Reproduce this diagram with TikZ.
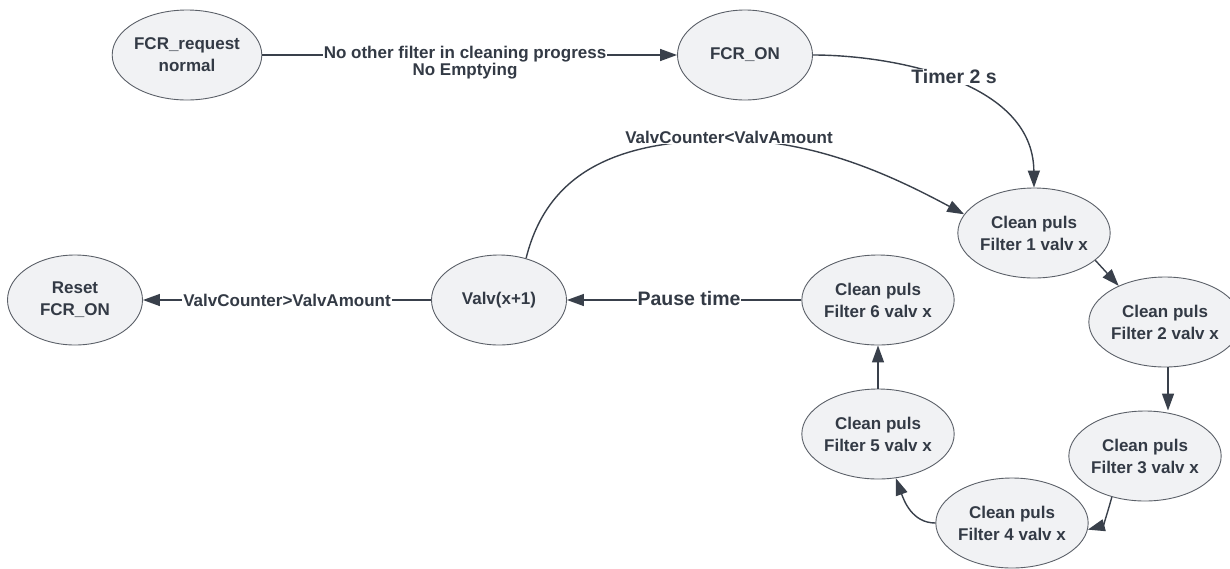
\documentclass[tikz,border=0pt]{standalone}
\usepackage{fontspec}
\setmainfont{Liberation Sans}
\usetikzlibrary{arrows.meta,shapes.geometric}
\definecolor{txt}{HTML}{333A45}
\definecolor{edge}{HTML}{39404B}
\definecolor{ebord}{HTML}{5B6068}
\definecolor{efill}{HTML}{F1F2F4}
\tikzset{
  state/.style={ellipse, draw=ebord, line width=0.9pt, fill=efill, minimum width=135pt, minimum height=90pt, inner sep=0pt, align=center, text=txt, font=\fontsize{17}{22}\selectfont\bfseries},
  lbl/.style={fill=white, inner sep=1pt, text=txt, align=center, font=\fontsize{17}{17}\selectfont\bfseries},
  biglbl/.style={fill=white, inner sep=1pt, text=txt, align=center, font=\fontsize{19.5}{20}\selectfont\bfseries},
  conn/.style={draw=edge, line width=1.4pt, -{Triangle[length=17pt,width=12pt]}},
}
\begin{document}
\begin{tikzpicture}[x=1pt,y=-1pt]
\useasboundingbox (0,0) rectangle (1230,568);
% states
\node[state] (req) at (187,55) {FCR\_request\\normal};
\node[state] (on) at (745,55) {FCR\_ON};
\node[state] (f1) at (1034,233) {Clean puls\\Filter 1 valv x};
\node[state] (f2) at (1165,322) {Clean puls\\Filter 2 valv x};
\node[state] (f3) at (1145,456) {Clean puls\\Filter 3 valv x};
\node[state] (f4) at (1012,523) {Clean puls\\Filter 4 valv x};
\node[state] (f5) at (878,434) {Clean puls\\Filter 5 valv x};
\node[state] (f6) at (878,300) {Clean puls\\Filter 6 valv x};
\node[state] (valv) at (499,300) {Valv(x+1)};
\node[state] (reset) at (75,300) {Reset\\FCR\_ON};
% connectors
\draw[conn] (req.east) -- (on.west);
\node[lbl] (l1) at (465,63) {No other filter in cleaning progress\\No Emptying};

\draw[conn] (on.east) .. controls (890,55) and (1033,80) .. (f1.north);
\node[biglbl] (l2) at (954,77) {Timer 2 s};

\coordinate (c3) at (729,140);
\draw[conn] (valv.57) .. controls (548,170) and (620,140) .. (c3) .. controls (820,140) and (900,180) .. (f1.165);
\node[lbl] (l3) at (c3) [yshift=3pt] {ValvCounter<ValvAmount};

\draw[conn] (f1.-24) -- (f2.142);
\draw[conn] ([xshift=3pt]f2.south) -- ([xshift=3pt]f2.south |- f3.north);
\draw[conn] (f3.-129) to[out=-105,in=15] (f4.-5);
\draw[conn] (f4.west) to[out=180,in=-70] (f5.-68);
\draw[conn] (f5.north) -- (f6.south);

\draw[conn] (f6.west) -- (valv.east);
\node[biglbl] (l4) at (689,299) {Pause time};

\draw[conn] (valv.west) -- (reset.east);
\node[lbl] (l5) at (287,300) {ValvCounter>ValvAmount};
\end{tikzpicture}
\end{document}
